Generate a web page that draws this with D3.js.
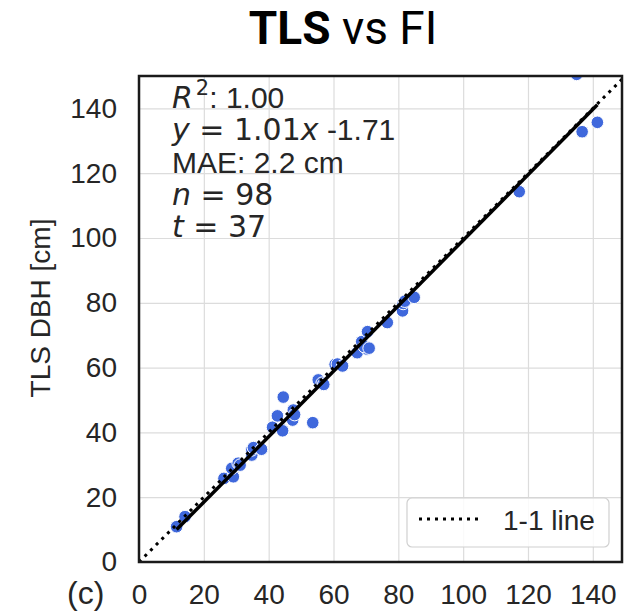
<!DOCTYPE html>
<html>
<head>
<meta charset="utf-8">
<script src="https://cdn.jsdelivr.net/npm/d3@7"></script>
<style>
  html, body { margin: 0; padding: 0; background: #fff; }
  svg { display: block; }
  .tick text { font-family: "Liberation Sans", Arial, sans-serif; fill: #262626; }
</style>
</head>
<body>
<div id="chart"></div>
<script>
// FI DBH (x) vs TLS DBH (y), cm
const fiDbh  = [11.6, 14.2, 26.2, 29.1, 28.6, 30.6, 31.2, 34.8, 34.8, 35.3, 37.8, 41.2, 42.7, 44.0,
                44.3, 44.5, 47.4, 47.6, 48.0, 53.6, 55.3, 56.5, 57.0, 60.5, 61.2, 62.8, 67.3, 68.7,
                70.5, 70.4, 69.5, 71.0, 76.6, 81.3, 81.5, 82.0, 84.9, 117.3, 136.7, 141.4, 135.0];
const tlsDbh = [10.9, 14.0, 25.8, 26.3, 28.9, 30.5, 29.9, 33.0, 34.6, 35.3, 34.8, 41.6, 45.1, 41.0,
                40.5, 50.9, 43.8, 46.9, 45.5, 43.0, 56.2, 55.2, 54.8, 61.0, 61.1, 60.5, 64.6, 68.0,
                71.1, 65.7, 66.5, 66.0, 73.9, 77.5, 79.8, 80.5, 81.7, 114.3, 132.8, 135.7, 150.5];
const xTicks = [0, 20, 40, 60, 80, 100, 120, 140];
const yTicks = [0, 20, 40, 60, 80, 100, 120, 140];
const slope = 1.01, intercept = -1.71;
const legendLabel = "1-1 line";

const W = 628, H = 613;
const m = { left: 139, right: 622, top: 76, bottom: 562 };
const ptColor = "#3f68dc";
const sans = "'Liberation Sans', Arial, sans-serif";
const mathFont = "'DejaVu Sans', sans-serif";

const svg = d3.select("#chart").append("svg").attr("width", W).attr("height", H);

const x = d3.scaleLinear().domain([0, 149]).range([m.left, m.right]);
const y = d3.scaleLinear().domain([0, 150]).range([m.bottom, m.top]);

// title
const title = svg.append("text")
  .attr("x", 343).attr("y", 44)
  .attr("text-anchor", "middle")
  .style("font-family", "Roboto, sans-serif")
  .style("font-size", "46px")
  .attr("fill", "#000");
title.append("tspan").style("font-weight", "bold").text("TLS");
title.append("tspan").text(" vs FI");

// grid
svg.append("g")
  .attr("transform", `translate(0,${m.bottom})`)
  .call(d3.axisBottom(x).tickValues(xTicks).tickSize(-(m.bottom - m.top)).tickFormat(""))
  .call(g => g.select(".domain").remove())
  .call(g => g.selectAll("line").attr("stroke", "#dcdcdc").attr("stroke-width", 1.2));
svg.append("g")
  .attr("transform", `translate(${m.left},0)`)
  .call(d3.axisLeft(y).tickValues(yTicks).tickSize(-(m.right - m.left)).tickFormat(""))
  .call(g => g.select(".domain").remove())
  .call(g => g.selectAll("line").attr("stroke", "#dcdcdc").attr("stroke-width", 1.2));

// tick labels
svg.append("g")
  .attr("transform", `translate(0,${m.bottom})`)
  .call(d3.axisBottom(x).tickValues(xTicks).tickSize(0).tickPadding(22))
  .call(g => g.select(".domain").remove())
  .call(g => g.selectAll("text").style("font-size", "28px"));
svg.append("g")
  .attr("transform", `translate(${m.left},0)`)
  .call(d3.axisLeft(y).tickValues(yTicks).tickSize(0).tickPadding(22))
  .call(g => g.select(".domain").remove())
  .call(g => g.selectAll("text").style("font-size", "28px"));

// axis label and panel letter
svg.append("text")
  .attr("transform", `translate(50,308) rotate(-90)`)
  .attr("text-anchor", "middle")
  .style("font-family", sans)
  .style("font-size", "28px")
  .attr("fill", "#262626")
  .text("TLS DBH [cm]");
svg.append("text")
  .attr("x", 67).attr("y", 604)
  .style("font-family", sans)
  .style("font-size", "32px")
  .attr("fill", "#262626")
  .text("(c)");

// plot area
svg.append("clipPath").attr("id", "clip")
  .append("rect").attr("x", m.left).attr("y", m.top)
  .attr("width", m.right - m.left).attr("height", m.bottom - m.top);
const plot = svg.append("g").attr("clip-path", "url(#clip)");

plot.selectAll("circle")
  .data(d3.range(fiDbh.length))
  .join("circle")
  .attr("cx", i => x(fiDbh[i]))
  .attr("cy", i => y(tlsDbh[i]))
  .attr("r", 6.3)
  .attr("fill", ptColor)
  .attr("stroke", "#fff")
  .attr("stroke-width", 1);

// 1-1 line
plot.append("line")
  .attr("x1", x(0)).attr("y1", y(0))
  .attr("x2", x(150)).attr("y2", y(150))
  .attr("stroke", "#000").attr("stroke-width", 3)
  .attr("stroke-dasharray", "3,5");

// regression line
const xMin = d3.min(fiDbh), xMax = d3.max(fiDbh);
plot.append("line")
  .attr("x1", x(xMin)).attr("y1", y(slope * xMin + intercept))
  .attr("x2", x(xMax)).attr("y2", y(slope * xMax + intercept))
  .attr("stroke", "#000").attr("stroke-width", 3.5);

// spines
svg.append("rect")
  .attr("x", m.left).attr("y", m.top)
  .attr("width", m.right - m.left).attr("height", m.bottom - m.top)
  .attr("fill", "none").attr("stroke", "#1a1a1a").attr("stroke-width", 2.5);

// stats text (math parts in DejaVu like matplotlib mathtext)
const stats = svg.append("g")
  .style("font-family", sans)
  .style("font-size", "30px")
  .attr("fill", "#262626");
const tx = 172;
let t = stats.append("text").attr("x", tx).attr("y", 108);
t.append("tspan").style("font-family", mathFont).style("font-style", "italic").text("R");
t.append("tspan").attr("dx", 3).attr("dy", -13).style("font-family", mathFont).style("font-size", "21px").text("2");
t.append("tspan").attr("dy", 13).text(": 1.00");

t = stats.append("text").attr("x", tx).attr("y", 140);
t.append("tspan").style("font-family", mathFont).style("font-style", "italic").text("y");
t.append("tspan").style("font-family", mathFont).text(" = 1.01");
t.append("tspan").style("font-family", mathFont).style("font-style", "italic").text("x");
t.append("tspan").text(" -1.71");

stats.append("text").attr("x", tx).attr("y", 173).text("MAE: 2.2 cm");

t = stats.append("text").attr("x", tx).attr("y", 205);
t.append("tspan").style("font-family", mathFont).style("font-style", "italic").text("n");
t.append("tspan").style("font-family", mathFont).text(" = 98");

t = stats.append("text").attr("x", tx).attr("y", 237);
t.append("tspan").style("font-family", mathFont).style("font-style", "italic").text("t");
t.append("tspan").style("font-family", mathFont).text(" = 37");

// legend
const lg = svg.append("g");
lg.append("rect")
  .attr("x", 407).attr("y", 498).attr("width", 202).attr("height", 49)
  .attr("rx", 5)
  .attr("fill", "#fff").attr("fill-opacity", 0.85)
  .attr("stroke", "#d0d0d0").attr("stroke-width", 1.2);
lg.append("line")
  .attr("x1", 419).attr("x2", 478).attr("y1", 519).attr("y2", 519)
  .attr("stroke", "#000").attr("stroke-width", 3)
  .attr("stroke-dasharray", "3,5");
lg.append("text")
  .attr("x", 503).attr("y", 530)
  .style("font-family", sans)
  .style("font-size", "28px")
  .attr("fill", "#262626")
  .text(legendLabel);
</script>
</body>
</html>
